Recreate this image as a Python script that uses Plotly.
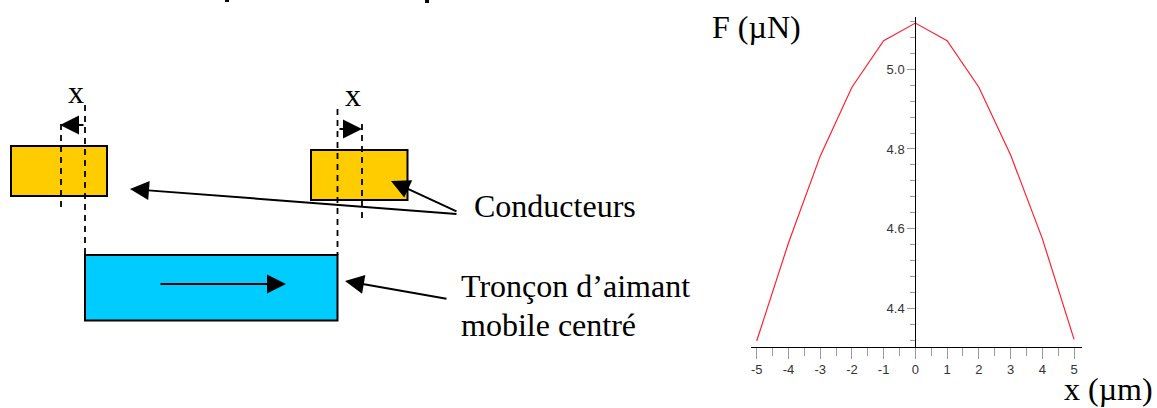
import plotly.graph_objects as go

W, H = 1157, 408
FONT = "Liberation Serif"

# Curve data
x_um = [-5, -4, -3, -2, -1, 0, 1, 2, 3, 4, 5]
f_un = [4.318, 4.564, 4.782, 4.955, 5.072, 5.116, 5.072, 4.955, 4.785, 4.575, 4.322]
x_ticks = [-5, -4, -3, -2, -1, 0, 1, 2, 3, 4, 5]
x_tick_labels = ["-5", "-4", "-3", "-2", "-1", "0", "1", "2", "3", "4", "5"]
y_ticks = [4.4, 4.6, 4.8, 5.0]

# Diagram elements (pixel-space overlay axes)
rects = [(11, 146, 107, 196, "#FFCC00"), (311, 150, 407.5, 200, "#FFCC00"), (85, 255, 337.5, 320.5, "#00CCFF")]
dashes = [(61, 124, 211), (85, 105, 255), (337.5, 109, 255), (362, 124, 218)]
arrows = [(85, 125, 60, 125), (338, 129, 362, 129), (458, 214, 130, 189), (458, 212, 391, 181),
          (448, 299, 345, 281), (159, 284, 286, 284)]
labels = [("x", 76, 92), ("x", 353, 95), ("Conducteurs", 474, 206), ("Tronçon d’aimant", 461, 286),
          ("mobile centré", 461, 325), ("F (µN)", 712, 27), ("x (µm)", 1064, 389)]
top_marks = [(227, 2), (427, 3)]

fig = go.Figure()
fig.add_trace(go.Scatter(x=x_um, y=f_un, mode="lines", line=dict(color="#FF2030", width=1.2),
                         hoverinfo="skip", showlegend=False))

tickfont = dict(family="Liberation Sans", size=13, color="#333333")
fig.update_layout(
    width=W, height=H, autosize=False,
    margin=dict(l=0, r=0, t=0, b=0), paper_bgcolor="white", plot_bgcolor="rgba(0,0,0,0)",
    showlegend=False,
    xaxis=dict(domain=[751 / W, 1082 / W], range=[-5.18, 5.25], tickvals=x_ticks, ticktext=x_tick_labels,
               ticks="outside", ticklen=11, tickcolor="#999999", tickwidth=1, showgrid=False, zeroline=False,
               showline=True, linecolor="black", linewidth=1, tickfont=tickfont, anchor="y",
               minor=dict(dtick=0.5, tick0=0, ticks="outside", ticklen=8, tickcolor="#999999", showgrid=False)),
    yaxis=dict(domain=[(H - 346.7) / H, (H - 16.7) / H], range=[4.3036, 5.132], tickvals=y_ticks,
               tickformat=".1f", ticks="outside", ticklen=8, tickcolor="#999999", tickwidth=1,
               showgrid=False, zeroline=False, showline=True, linecolor="black", linewidth=1,
               tickfont=tickfont, anchor="free", position=915.3 / W,
               minor=dict(dtick=0.04, tick0=5.0, ticks="outside", ticklen=5, tickcolor="#999999", showgrid=False)),
    xaxis2=dict(domain=[0, 1], range=[0, W], visible=False, anchor="y2", fixedrange=True),
    yaxis2=dict(domain=[0, 1], range=[H, 0], visible=False, anchor="x2", fixedrange=True),
)
# Invisible trace so the overlay axes exist
fig.add_trace(go.Scatter(x=[0, W], y=[0, H], xaxis="x2", yaxis="y2", mode="markers",
                         marker=dict(opacity=0), hoverinfo="skip", showlegend=False))

for x0, y0, x1, y1, c in rects:
    fig.add_shape(type="rect", xref="x2", yref="y2", x0=x0, y0=y0, x1=x1, y1=y1,
                  fillcolor=c, line=dict(color="black", width=2))
for x, y0, y1 in dashes:
    fig.add_shape(type="line", xref="x2", yref="y2", x0=x, x1=x, y0=y0, y1=y1,
                  line=dict(color="black", width=1.8, dash="6px,5px"))
for x, h in top_marks:
    fig.add_shape(type="line", xref="x2", yref="y2", x0=x - 2, x1=x + 2, y0=h / 2, y1=h / 2,
                  line=dict(color="black", width=h))
for x0, y0, x1, y1 in arrows:
    fig.add_annotation(xref="x2", yref="y2", axref="x2", ayref="y2", x=x1, y=y1, ax=x0, ay=y0,
                       text="", showarrow=True, arrowhead=2, arrowsize=1.9, arrowwidth=2, arrowcolor="black",
                       standoff=0, startstandoff=0)
for t, x, y in labels:
    fig.add_annotation(xref="x2", yref="y2", x=x, y=y, text=t, showarrow=False,
                       xanchor="center" if t == "x" else "left", yanchor="middle",
                       font=dict(family=FONT, size=32, color="black"), borderpad=0, borderwidth=0)

fig.write_html("out.html", config={"displayModeBar": False},
               post_script="document.body.style.margin='0';document.documentElement.style.overflow='hidden';")
